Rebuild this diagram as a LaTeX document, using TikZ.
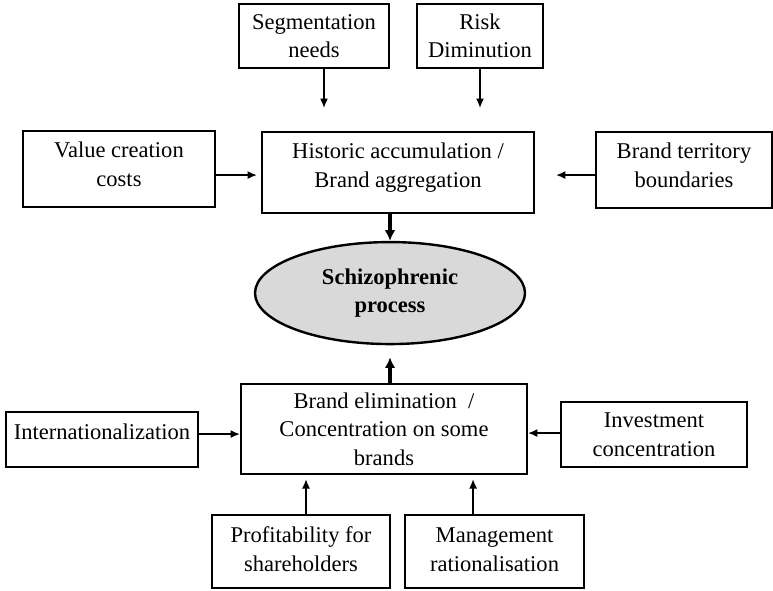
\documentclass[tikz,border=0pt]{standalone}
\usepackage{fontspec}
\setmainfont{Liberation Serif}
\usetikzlibrary{shapes.geometric, arrows.meta}
\tikzstyle{box} = [rectangle, draw=black, line width=1.7pt, text centered, align=center, inner sep=2pt, font=\fontsize{16.9pt}{21.4pt}\selectfont]
\tikzstyle{core} = [ellipse, draw=black, line width=1.8pt, fill=gray!30, align=center, inner sep=0pt, minimum width=202.5pt, minimum height=76.5pt, font=\fontsize{16.9pt}{20.5pt}\selectfont\bfseries]
\tikzstyle{arrow} = [line width=1pt, -{Latex[length=7pt,width=6pt]}]
\tikzstyle{thickarrow} = [line width=2.4pt, -{Latex[length=8pt,width=8pt]}]

\begin{document}
\begin{tikzpicture}[node distance=100pt]
\useasboundingbox (-298.5pt,-313.1pt) rectangle (281.25pt,129.4pt);

\node (hist) [box, minimum width=204pt, minimum height=60.75pt, text depth=11.25pt] {Historic accumulation /\\Brand aggregation};

\node (seg) [box, above of=hist, xshift=-63pt, yshift=2.4pt, minimum width=112.5pt, minimum height=48pt] {Segmentation\\needs};
\node (risk) [box, above of=hist, xshift=61.5pt, yshift=2.4pt, minimum width=94.5pt, minimum height=48pt] {Risk\\Diminution};
\node (value) [box, left of=hist, xshift=-109.25pt, yshift=2.6pt, minimum width=144pt, minimum height=57pt, text depth=7.5pt] {Value creation\\costs};
\node (terr) [box, right of=hist, xshift=114.5pt, yshift=1.9pt, minimum width=132pt, minimum height=57pt, text depth=7.5pt] {Brand territory\\boundaries};

\node (ell) [core, below of=hist, xshift=-6pt, yshift=9.6pt] {Schizophrenic\\process};

\node (elim) [box, below of=ell, xshift=-4.5pt, yshift=-2pt, minimum width=214.5pt, minimum height=67.5pt] {Brand elimination\ \ /\\Concentration on some\\brands};
\node (intl) [box, left of=elim, xshift=-111.5pt, yshift=-7.85pt, minimum width=144pt, minimum height=41.25pt, text depth=12pt] {Internationalization};
\node (inv) [box, right of=elim, xshift=102.5pt, yshift=-4.1pt, minimum width=139.5pt, minimum height=48.75pt] {Investment\\concentration};
\node (prof) [box, below of=elim, xshift=-62.25pt, yshift=8.15pt, minimum width=133.5pt, minimum height=54.75pt, text depth=4pt] {Profitability for\\shareholders};
\node (mgmt) [box, below of=elim, xshift=82.9pt, yshift=8.15pt, minimum width=134.25pt, minimum height=54.75pt, text depth=3pt] {Management\\rationalisation};

\coordinate (segout) at ([xshift=7.5pt]seg.south);
\coordinate (valin) at ([yshift=-1.9pt]hist.west);
\coordinate (terrin) at ([yshift=-1.9pt]hist.east);
\coordinate (intlin) at ([yshift=-3.75pt]elim.west);
\coordinate (invin) at ([yshift=-3pt]elim.east);
\coordinate (profout) at ([xshift=3.75pt]prof.north);
\coordinate (mgmtout) at ([xshift=-16.1pt]mgmt.north);

\draw [arrow, shorten >=17.25pt] (segout) -- (segout |- hist.north);
\draw [arrow, shorten >=17.25pt] (risk.south) -- (risk.south |- hist.north);
\draw [arrow, shorten >=3pt] (valin -| value.east) -- (valin);
\draw [arrow, shorten >=15.75pt] (terrin -| terr.west) -- (terrin);
\draw [thickarrow] (hist.south -| ell.north) -- (ell.north);

\draw [thickarrow, shorten >=9pt] (elim.north -| ell.south) -- (ell.south);
\draw [arrow] (intlin -| intl.east) -- (intlin);
\draw [arrow] (invin -| inv.west) -- (invin);
\draw [arrow, shorten >=3pt] (profout) -- (profout |- elim.south);
\draw [arrow, shorten >=3pt] (mgmtout) -- (mgmtout |- elim.south);
\end{tikzpicture}
\end{document}
